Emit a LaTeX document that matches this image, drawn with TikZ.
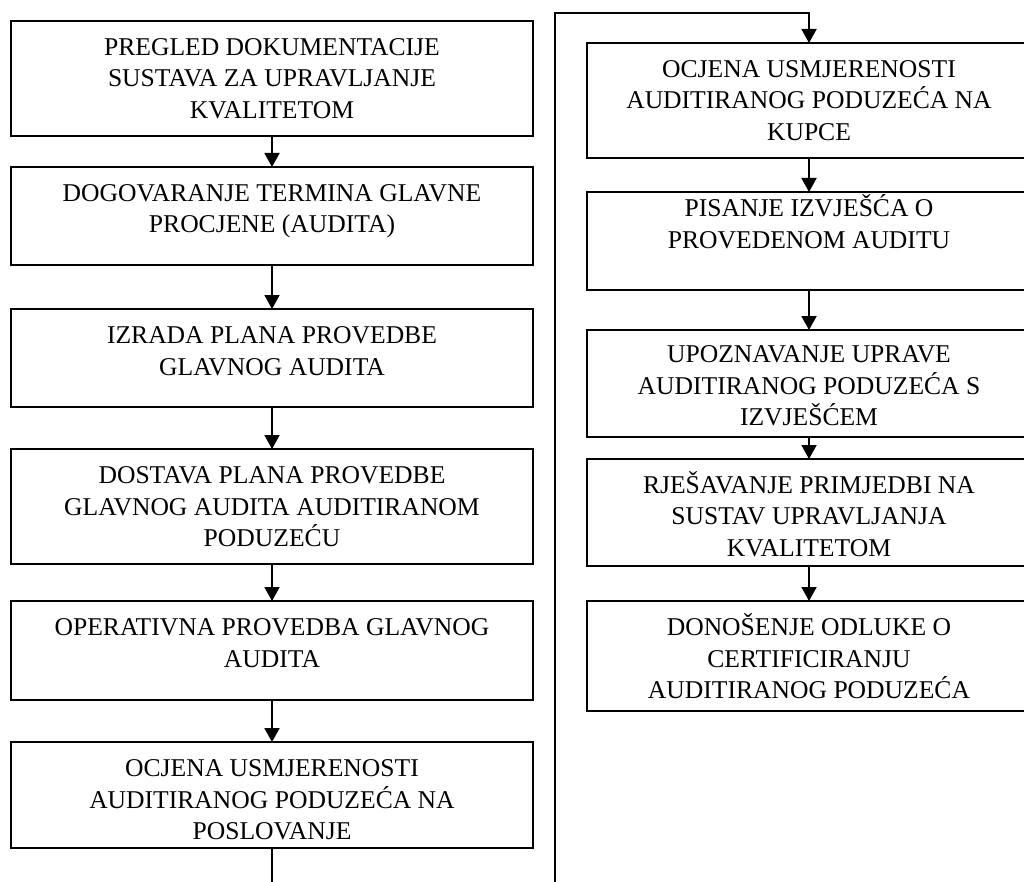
\documentclass[tikz,border=0pt]{standalone}
\usepackage{fontspec}
\setmainfont{Liberation Serif}
\usetikzlibrary{arrows.meta}
\tikzset{
  box/.style={draw, line width=1.9pt, inner sep=0pt, outer sep=0pt, rectangle},
  lbox/.style={box, minimum width=522pt},
  rbox/.style={box, minimum width=444pt},
  txt/.style={anchor=base, align=center, inner sep=0pt, font=\fontsize{25.6}{31.5}\selectfont},
  conn/.style={line width=1.9pt, -{Triangle[length=14pt, width=15pt]}},
}
\begin{document}
\begin{tikzpicture}[x=1pt, y=-1pt]
\useasboundingbox (0,0) rectangle (1024,882);
\clip (0,0) rectangle (1024,882);
% left column
\node[lbox, minimum height=115pt]  (b1) at (272,78.5) {};
\node[lbox, minimum height=98pt]   (b2) at (272,216) {};
\node[lbox, minimum height=98pt]   (b3) at (272,358) {};
\node[lbox, minimum height=115pt]  (b4) at (272,506.5) {};
\node[lbox, minimum height=99pt]   (b5) at (272,650.5) {};
\node[lbox, minimum height=106pt]  (b6) at (272,795) {};
% right column
\node[rbox, minimum height=115pt] (r1) at (809,100.5) {};
\node[rbox, minimum height=98pt]  (r2) at (809,241) {};
\node[rbox, minimum height=107pt] (r3) at (809,383.5) {};
\node[rbox, minimum height=107pt] (r4) at (809,512.5) {};
\node[rbox, minimum height=110pt] (r5) at (809,656) {};
% texts (anchor base = baseline of last line)
\node[txt] (t1) at ([yshift=-97.5pt]b1.north) {PREGLED DOKUMENTACIJE\\SUSTAVA ZA UPRAVLJANJE\\KVALITETOM};
\node[txt] (t2) at ([yshift=-66pt]b2.north) {DOGOVARANJE TERMINA GLAVNE\\PROCJENE (AUDITA)};
\node[txt] (t3) at ([yshift=-66pt]b3.north) {IZRADA PLANA PROVEDBE\\GLAVNOG AUDITA};
\node[txt] (t4) at ([yshift=-97.5pt]b4.north) {DOSTAVA PLANA PROVEDBE\\GLAVNOG AUDITA AUDITIRANOM\\PODUZEĆU};
\node[txt] (t5) at ([yshift=-66pt]b5.north) {OPERATIVNA PROVEDBA GLAVNOG\\AUDITA};
\node[txt] (t6) at ([yshift=-97.5pt]b6.north) {OCJENA USMJERENOSTI\\AUDITIRANOG PODUZEĆA NA\\POSLOVANJE};
\node[txt] (u1) at ([yshift=-97.5pt]r1.north) {OCJENA USMJERENOSTI\\AUDITIRANOG PODUZEĆA NA\\KUPCE};
\node[txt] (u2) at ([yshift=-56.5pt]r2.north) {PISANJE IZVJEŠĆA O\\PROVEDENOM AUDITU};
\node[txt] (u3) at ([yshift=-95.5pt]r3.north) {UPOZNAVANJE UPRAVE\\AUDITIRANOG PODUZEĆA S\\IZVJEŠĆEM};
\node[txt] (u4) at ([yshift=-97pt]r4.north) {RJEŠAVANJE PRIMJEDBI NA\\SUSTAV UPRAVLJANJA\\KVALITETOM};
\node[txt] (u5) at ([yshift=-97.5pt]r5.north) {DONOŠENJE ODLUKE O\\CERTIFICIRANJU\\AUDITIRANOG PODUZEĆA};
% connectors
\draw[conn] (b1.south) -- (b2.north);
\draw[conn] (b2.south) -- (b3.north);
\draw[conn] (b3.south) -- (b4.north);
\draw[conn] (b4.south) -- (b5.north);
\draw[conn] (b5.south) -- (b6.north);
\coordinate (lb) at (272,900);
\coordinate (rb) at (555,900);
\coordinate (rt) at (555,13);
\draw[conn] (b6.south) -- (lb) -- (rb) -- (rt) -| (r1.north);
\draw[conn] (r1.south) -- (r2.north);
\draw[conn] (r2.south) -- (r3.north);
\draw[conn] (r3.south) -- (r4.north);
\draw[conn] (r4.south) -- (r5.north);
\end{tikzpicture}
\end{document}
